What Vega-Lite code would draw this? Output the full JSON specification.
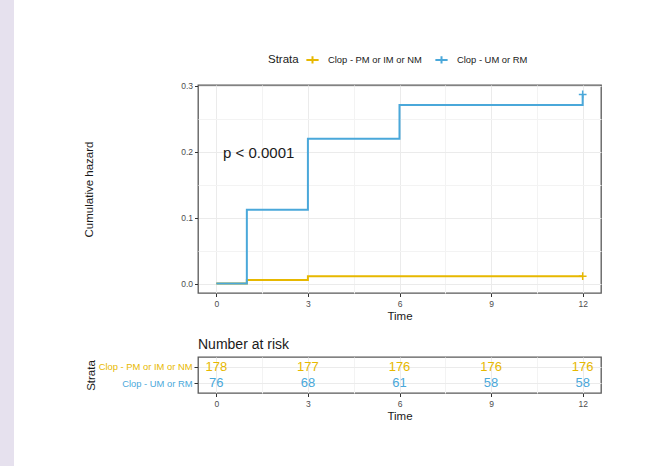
{
  "$schema": "https://vega.github.io/schema/vega-lite/v6.json",
  "background": "white",
  "padding": 0,
  "config": {
    "font": "Liberation Sans",
    "view": {"stroke": null},
    "axis": {
      "labelFont": "Liberation Sans",
      "titleFont": "Liberation Sans",
      "titleFontWeight": "normal",
      "titleColor": "#1a1a1a",
      "labelColor": "#4d4d4d",
      "tickColor": "#333333",
      "domain": false,
      "gridColor": "#EBEBEB",
      "gridWidth": 1,
      "labelFontSize": 8.5,
      "titleFontSize": 11.5,
      "tickSize": 3.5
    }
  },
  "datasets": {
    "curves": [
      {"strata": "Clop - PM or IM or NM", "time": 0, "hazard": 0},
      {"strata": "Clop - PM or IM or NM", "time": 1, "hazard": 0.0056},
      {"strata": "Clop - PM or IM or NM", "time": 3, "hazard": 0.0113},
      {"strata": "Clop - PM or IM or NM", "time": 12, "hazard": 0.0113},
      {"strata": "Clop - UM or RM", "time": 0, "hazard": 0},
      {"strata": "Clop - UM or RM", "time": 1, "hazard": 0.112},
      {"strata": "Clop - UM or RM", "time": 3, "hazard": 0.220},
      {"strata": "Clop - UM or RM", "time": 6, "hazard": 0.271},
      {"strata": "Clop - UM or RM", "time": 12, "hazard": 0.287}
    ],
    "risk": [
      {"strata": "Clop - PM or IM or NM", "time": 0, "n": 178},
      {"strata": "Clop - PM or IM or NM", "time": 3, "n": 177},
      {"strata": "Clop - PM or IM or NM", "time": 6, "n": 176},
      {"strata": "Clop - PM or IM or NM", "time": 9, "n": 176},
      {"strata": "Clop - PM or IM or NM", "time": 12, "n": 176},
      {"strata": "Clop - UM or RM", "time": 0, "n": 76},
      {"strata": "Clop - UM or RM", "time": 3, "n": 68},
      {"strata": "Clop - UM or RM", "time": 6, "n": 61},
      {"strata": "Clop - UM or RM", "time": 9, "n": 58},
      {"strata": "Clop - UM or RM", "time": 12, "n": 58}
    ]
  },
  "bounds": "flush",
  "spacing": 184,
  "hconcat": [
    {
      "width": 14,
      "height": 466,
      "data": {"values": []},
      "mark": "rect",
      "view": {"fill": "#E6E1EE", "stroke": null}
    },
    {
      "bounds": "flush",
      "spacing": 64,
      "vconcat": [
        {
          "width": 403,
          "height": 21,
          "data": {"values": []},
          "mark": "rect",
          "view": {"stroke": null}
        },
        {
          "width": 403,
          "height": 208,
          "view": {"stroke": "#595959", "strokeWidth": 1.3},
          "data": {"name": "curves"},
          "layer": [
            {
              "mark": {"type": "point", "opacity": 0},
              "encoding": {
                "x": {"field": "time", "type": "quantitative",
                  "scale": {"domain": [-0.6, 12.6], "nice": false, "zero": false},
                  "axis": {"orient": "bottom", "values": [1.5, 4.5, 7.5, 10.5], "grid": true, "gridColor": "#F3F3F3", "labels": false, "ticks": false, "title": null}},
                "y": {"field": "hazard", "type": "quantitative",
                  "scale": {"domain": [-0.0143, 0.3014], "nice": false, "zero": false},
                  "axis": {"orient": "left", "values": [0.05, 0.15, 0.25], "grid": true, "gridColor": "#F3F3F3", "labels": false, "ticks": false, "title": null}}
              }
            },
            {
              "transform": [{"filter": "datum.strata === 'Clop - PM or IM or NM'"}],
              "mark": {"type": "line", "interpolate": "step-after", "strokeWidth": 2, "opacity": 1},
              "encoding": {
                "x": {"field": "time", "type": "quantitative",
                  "axis": {"orient": "bottom", "values": [0, 3, 6, 9, 12], "grid": true, "title": "Time", "titlePadding": 2, "labelPadding": 3}},
                "y": {"field": "hazard", "type": "quantitative",
                  "axis": {"orient": "left", "values": [0, 0.1, 0.2, 0.3], "format": ".1f", "grid": true, "title": "Cumulative hazard", "titlePadding": 86, "labelPadding": 2}},
                "color": {"field": "strata", "type": "nominal",
                  "scale": {"domain": ["Clop - PM or IM or NM", "Clop - UM or RM"], "range": ["#E7B800", "#4AA8DA"]},
                  "legend": {
                    "orient": "none", "legendX": 268, "legendY": 52,
                    "direction": "horizontal",
                    "title": "Strata", "titleOrient": "left",
                    "titleFontSize": 11.5, "titleFontWeight": "normal", "titleColor": "#1a1a1a", "titlePadding": 6,
                    "labelFontSize": 9.4, "labelColor": "#1a1a1a",
                    "symbolType": "M-1,0H1M0,-0.6V0.6", "symbolSize": 150, "symbolStrokeWidth": 2,
                    "labelOffset": 8, "columnPadding": 9
                  }}
              }
            },
            {
              "transform": [{"filter": "datum.strata === 'Clop - UM or RM'"}],
              "mark": {"type": "line", "interpolate": "step-after", "strokeWidth": 2, "opacity": 1},
              "encoding": {
                "x": {"field": "time", "type": "quantitative", "axis": null},
                "y": {"field": "hazard", "type": "quantitative", "axis": null},
                "color": {"field": "strata", "type": "nominal"}
              }
            },
            {
              "transform": [{"filter": "datum.time == 12"}],
              "mark": {"type": "point", "shape": "M-1,0H1M0,-1V1", "filled": false, "size": 60, "strokeWidth": 1.5, "opacity": 1},
              "encoding": {
                "x": {"field": "time", "type": "quantitative", "axis": null},
                "y": {"field": "hazard", "type": "quantitative", "axis": null},
                "color": {"field": "strata", "type": "nominal"}
              }
            },
            {
              "data": {"values": [{"label": "p < 0.0001"}]},
              "mark": {"type": "text", "align": "left", "baseline": "middle", "fontSize": 15, "color": "#1a1a1a"},
              "encoding": {
                "x": {"datum": 0.22, "type": "quantitative", "axis": null},
                "y": {"datum": 0.198, "type": "quantitative", "axis": null},
                "text": {"field": "label"}
              }
            }
          ],
          "resolve": {"axis": {"x": "independent", "y": "independent"}}
        },
        {
          "width": 403,
          "height": 36,
          "view": {"stroke": "#595959", "strokeWidth": 1.3},
          "title": {"text": "Number at risk", "anchor": "start", "frame": "group", "fontSize": 14, "fontWeight": "normal", "color": "#1a1a1a", "offset": 5},
          "data": {"name": "risk"},
          "layer": [
            {
              "mark": {"type": "text", "opacity": 0},
              "encoding": {
                "x": {"field": "time", "type": "quantitative",
                  "scale": {"domain": [-0.6, 12.6], "nice": false, "zero": false},
                  "axis": {"orient": "bottom", "values": [1.5, 4.5, 7.5, 10.5], "grid": true, "gridColor": "#F3F3F3", "labels": false, "ticks": false, "title": null}},
                "y": {"field": "strata", "type": "nominal",
                  "scale": {"type": "point", "padding": 0.6, "domain": ["Clop - PM or IM or NM", "Clop - UM or RM"]},
                  "axis": null},
                "text": {"field": "n"}
              }
            },
            {
              "mark": {"type": "text", "fontSize": 13, "baseline": "middle", "align": "center"},
              "encoding": {
                "x": {"field": "time", "type": "quantitative",
                  "axis": {"orient": "bottom", "values": [0, 3, 6, 9, 12], "grid": true, "title": "Time", "titlePadding": 2, "labelPadding": 3}},
                "y": {"field": "strata", "type": "nominal",
                  "axis": {"orient": "left", "grid": true, "title": "Strata", "titlePadding": 2, "labelPadding": 2, "tickSize": 4, "labelFontSize": 9.4,
                    "labelColor": {"condition": {"test": "datum.value === 'Clop - UM or RM'", "value": "#4AA8DA"}, "value": "#E7B800"}}},
                "text": {"field": "n"},
                "color": {"field": "strata", "type": "nominal",
                  "scale": {"domain": ["Clop - PM or IM or NM", "Clop - UM or RM"], "range": ["#E7B800", "#4AA8DA"]},
                  "legend": null}
              }
            }
          ],
          "resolve": {"axis": {"x": "independent", "y": "independent"}}
        }
      ]
    }
  ]
}
